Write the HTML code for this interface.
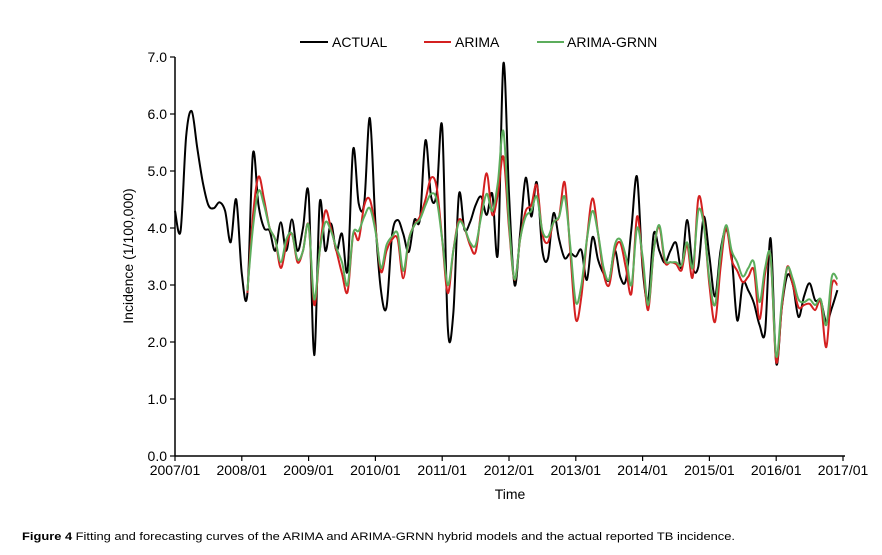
<!DOCTYPE html>
<html><head><meta charset="utf-8"><style>
body{margin:0;background:#fff;width:882px;height:550px;overflow:hidden;font-family:"Liberation Sans",sans-serif}
</style></head><body>
<svg width="882" height="550">
<g id="axes"></g>
<g id="series"></g>
<g font-size="14">
<g><line x1="300" y1="42" x2="328" y2="42" stroke="#000" stroke-width="2"/><text x="332" y="47">ACTUAL</text></g>
<g><line x1="424" y1="42" x2="451" y2="42" stroke="#d42020" stroke-width="2"/><text x="455" y="47">ARIMA</text></g>
<g><line x1="537" y1="42" x2="564" y2="42" stroke="#5cad5c" stroke-width="2"/><text x="567" y="47">ARIMA-GRNN</text></g>
</g>
<text transform="translate(133,256) rotate(-90)" text-anchor="middle" font-size="14">Incidence (1/100,000)</text>
<text x="510" y="499" text-anchor="middle" font-size="14">Time</text>
<text x="22" y="540" font-size="11" textLength="713" lengthAdjust="spacingAndGlyphs"><tspan font-weight="bold">Figure 4</tspan> Fitting and forecasting curves of the ARIMA and ARIMA-GRNN hybrid models and the actual reported TB incidence.</text>
</svg>
<script>
const xTickLabels=["2007/01","2008/01","2009/01","2010/01","2011/01","2012/01","2013/01","2014/01","2015/01","2016/01","2017/01"];
const yTickLabels=["0.0","1.0","2.0","3.0","4.0","5.0","6.0","7.0"];
const actual=[4.3,3.95,5.6,6.05,5.4,4.8,4.4,4.35,4.45,4.3,3.75,4.5,3.2,2.85,5.3,4.4,4.0,3.95,3.6,4.1,3.6,4.15,3.6,4.0,4.6,1.77,4.44,3.6,4.08,3.6,3.9,3.26,5.38,4.43,4.45,5.93,4.1,2.9,2.61,3.88,4.14,3.9,3.58,4.14,4.15,5.54,4.55,4.6,5.77,2.26,2.5,4.58,3.97,4.1,4.4,4.55,4.23,4.6,3.56,6.89,4.6,3.0,3.9,4.88,4.2,4.8,3.6,3.47,4.26,3.8,3.47,3.56,3.5,3.61,3.09,3.84,3.44,3.2,3.09,3.61,3.14,3.09,4.0,4.9,3.3,2.74,3.9,3.6,3.39,3.6,3.74,3.3,4.14,3.32,3.32,4.2,3.5,2.8,3.6,3.97,3.5,2.38,3.03,2.9,2.68,2.3,2.18,3.82,1.63,2.6,3.17,3.0,2.44,2.8,3.03,2.73,2.73,2.35,2.6,2.91];
const arimaStart=13;
const arima=[2.86,4.2,4.9,4.5,4.0,3.8,3.3,3.7,3.9,3.4,3.6,4.05,2.65,3.6,4.3,4.0,3.6,3.2,2.88,3.88,3.8,4.4,4.5,4.0,3.23,3.6,3.8,3.8,3.12,3.8,4.05,4.2,4.5,4.88,4.72,3.8,2.86,3.6,4.14,4.0,3.7,3.58,4.3,4.96,4.23,4.6,5.25,4.0,3.09,3.8,4.3,4.4,4.75,3.9,3.75,4.1,4.2,4.8,3.6,2.4,2.8,3.8,4.52,3.9,3.2,3.0,3.6,3.74,3.3,2.86,4.2,3.4,2.56,3.6,4.02,3.4,3.4,3.37,3.26,3.7,3.14,4.52,4.1,3.0,2.35,3.3,4.0,3.44,3.25,3.05,3.15,3.26,2.4,3.2,3.5,1.65,2.6,3.32,3.0,2.61,2.65,2.67,2.56,2.7,1.91,3.0,3.0];
const grnn=[2.9,4.0,4.65,4.4,4.0,3.8,3.4,3.8,3.9,3.45,3.6,4.05,2.75,3.6,4.1,3.95,3.65,3.4,3.0,3.9,3.95,4.2,4.35,3.95,3.3,3.7,3.85,3.9,3.25,3.8,4.05,4.15,4.4,4.6,4.5,3.8,3.0,3.6,4.1,4.0,3.75,3.7,4.2,4.6,4.3,4.8,5.7,4.1,3.1,3.8,4.2,4.3,4.55,3.95,3.85,4.1,4.2,4.55,3.7,2.7,3.0,3.8,4.3,3.9,3.3,3.1,3.7,3.8,3.5,3.0,4.0,3.5,2.65,3.6,4.05,3.45,3.4,3.4,3.35,3.75,3.3,4.3,4.05,3.1,2.65,3.5,4.05,3.6,3.4,3.15,3.3,3.4,2.7,3.3,3.5,1.75,2.7,3.3,3.1,2.75,2.7,2.75,2.65,2.75,2.3,3.15,3.1];

const X0=175,X1=843,Y0=456,Y7=57;
const xs=m=>X0+(X1-X0)*m/120;
const ys=v=>Y0-(Y0-Y7)*v/7;
const NS="http://www.w3.org/2000/svg";
function mk(tag,attrs,parent){const e=document.createElementNS(NS,tag);for(const k in attrs)e.setAttribute(k,attrs[k]);parent.appendChild(e);return e;}
const axes=document.getElementById('axes');
const yAxis=mk('line',{x1:X0,y1:Y0,x2:X0,y2:Y7,stroke:'#000','stroke-width':1.5},axes);


const xAxis=mk('line',{x1:X0,y1:Y0,x2:X1+2,y2:Y0,stroke:'#000','stroke-width':1.5},axes);


yTickLabels.forEach((t,i)=>{const y=ys(i);
 const tk=mk('line',{x1:X0-5,y1:y,x2:X0,y2:y,stroke:'#000','stroke-width':1.2},axes);
 
 
 const tx=mk('text',{x:X0-8,y:y+5,'text-anchor':'end','font-size':14},axes);tx.textContent=t;
 
 });
xTickLabels.forEach((t,i)=>{const x=xs(i*12);
 const tk=mk('line',{x1:x,y1:Y0,x2:x,y2:Y0+5,stroke:'#000','stroke-width':1.2},axes);
 
 
 const tx=mk('text',{x:x,y:Y0+19,'text-anchor':'middle','font-size':14},axes);tx.textContent=t;
 
 });
function smooth(pts){let d=`M${pts[0][0]},${pts[0][1]}`;
 for(let i=0;i<pts.length-1;i++){const p0=pts[i-1]||pts[i],p1=pts[i],p2=pts[i+1],p3=pts[i+2]||p2;
  const c1=[p1[0]+(p2[0]-p0[0])/6,p1[1]+(p2[1]-p0[1])/6],c2=[p2[0]-(p3[0]-p1[0])/6,p2[1]-(p3[1]-p1[1])/6];
  d+=`C${c1[0].toFixed(1)},${c1[1].toFixed(1)} ${c2[0].toFixed(1)},${c2[1].toFixed(1)} ${p2[0].toFixed(1)},${p2[1].toFixed(1)}`;}
 return d;}
const ser=document.getElementById('series');
const pA=mk('path',{d:smooth(actual.map((v,i)=>[xs(i),ys(v)])),fill:'none',stroke:'#000','stroke-width':2},ser);


const pR=mk('path',{d:smooth(arima.map((v,i)=>[xs(i+arimaStart),ys(v)])),fill:'none',stroke:'#d42020','stroke-width':2},ser);


const pG=mk('path',{d:smooth(grnn.map((v,i)=>[xs(i+arimaStart),ys(v)])),fill:'none',stroke:'#5cad5c','stroke-width':2},ser);


</script>
</body></html>
